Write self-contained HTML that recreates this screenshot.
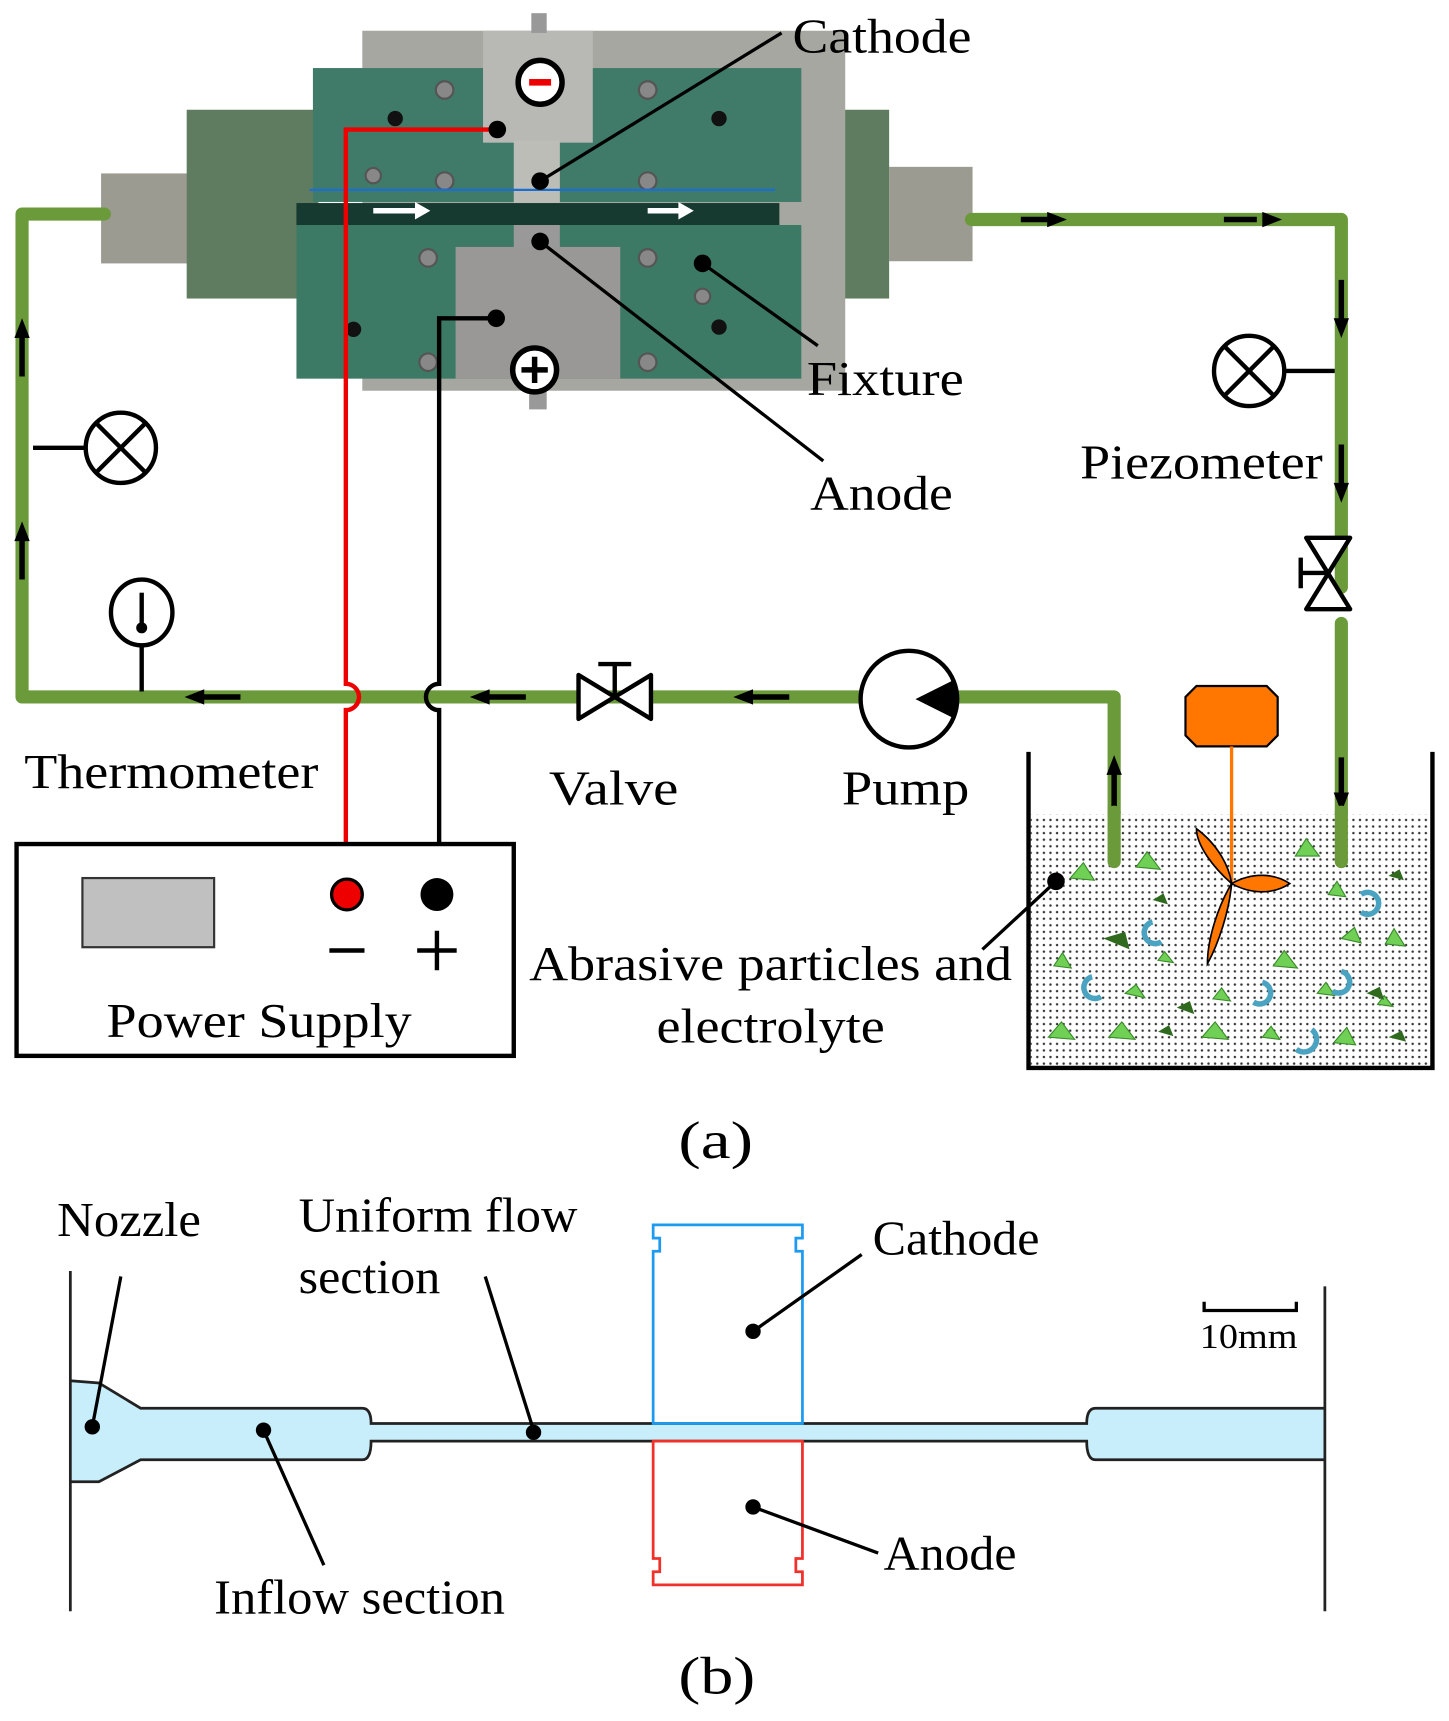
<!DOCTYPE html>
<html><head><meta charset="utf-8"><style>html,body{margin:0;padding:0;background:#fff}svg{display:block}text{font-family:"Liberation Serif",serif;fill:#000}</style></head>
<body>
<svg width="1449" height="1721" viewBox="0 0 1320 1568" xmlns="http://www.w3.org/2000/svg">
<defs>
<pattern id="dots" width="6" height="6" patternUnits="userSpaceOnUse"><rect width="6" height="6" fill="#fff"/><circle cx="3" cy="3" r="1.1" fill="#333"/></pattern>
</defs>
<rect x="92" y="158" width="85" height="82" fill="#9c9b92"/>
<rect x="810" y="152" width="76" height="86" fill="#9c9b92"/>
<rect x="170" y="100" width="120" height="172" fill="#5f7b60"/>
<rect x="698" y="100" width="112" height="172" fill="#5f7b60"/>
<rect x="330" y="28" width="440" height="328" fill="#a7a7a2"/>
<rect x="285" y="62" width="445" height="122" fill="#3f7b68"/>
<rect x="270" y="205" width="460" height="140" fill="#3d7a66"/>
<rect x="440" y="28" width="100" height="102" fill="#b8b8b4"/>
<rect x="468" y="128" width="42" height="60" fill="#bdbdb8"/>
<rect x="468" y="205" width="42" height="38" fill="#999"/>
<rect x="415" y="225" width="150" height="120" fill="#9a9896"/>
<rect x="270" y="185" width="440" height="20" fill="#163a30"/>
<g fill="#888" stroke="#555" stroke-width="2">
<circle cx="405" cy="82" r="8"/><circle cx="590" cy="82" r="8"/><circle cx="405" cy="165" r="8"/><circle cx="590" cy="165" r="8"/><circle cx="340" cy="160" r="7"/>
<circle cx="390" cy="235" r="8"/><circle cx="590" cy="235" r="8"/><circle cx="390" cy="330" r="8"/><circle cx="590" cy="330" r="8"/><circle cx="640" cy="270" r="7"/>
</g>
<g fill="#111"><circle cx="360" cy="108" r="7"/><circle cx="655" cy="108" r="7"/><circle cx="322" cy="300" r="7"/><circle cx="655" cy="298" r="7"/></g>
<rect x="484" y="12" width="14" height="18" fill="#999"/><rect x="482" y="355" width="16" height="18" fill="#999"/>
<path d="M340 192h40M590 192h30" stroke="#fff" stroke-width="5"/>
<path d="M378 184l14 8-14 8zM618 184l14 8-14 8z" fill="#fff"/>
<line x1="282" y1="173" x2="706" y2="173" stroke="#1c6fd0" stroke-width="2"/>
<circle cx="492" cy="75" r="20" fill="#fff" stroke="#000" stroke-width="5"/><rect x="482" y="72" width="20" height="6" fill="#e00"/>
<circle cx="487" cy="337" r="20" fill="#fff" stroke="#000" stroke-width="5"/><path d="M475 337h24M487 325v24" stroke="#000" stroke-width="5"/>
<g stroke="#6b9a3a" stroke-width="12" fill="none" stroke-linejoin="round" stroke-linecap="round">
<path d="M95 195H20V635H1015V785"/>
<path d="M885 200H1222V535"/>
<path d="M1222 568V785"/>
</g>
<g stroke="#000" stroke-width="5">
<path d="M20 305v38M20 490v38M185 635h34M445 635h34M685 635h34M930 200h28M1115 200h30M1222 255v38M1222 405v40M1222 690v38M1015 700v38"/>
</g>
<g fill="#000">
<path d="M20 290l-7 18h14z"/><path d="M20 475l-7 18h14z"/>
<path d="M168 635l18 -7v14z"/><path d="M428 635l18 -7v14z"/><path d="M668 635l18 -7v14z"/>
<path d="M972 200l-18 -7v14z"/><path d="M1168 200l-18 -7v14z"/>
<path d="M1222 308l-7 -18h14z"/><path d="M1222 458l-7 -18h14z"/><path d="M1222 740l-7 -18h14z"/><path d="M1015 688l-7 18h14z"/>
</g>
<g stroke="#000" stroke-width="4" fill="#fff">
<line x1="30" y1="408" x2="78" y2="408"/><circle cx="110" cy="408" r="32"/><path d="M88 386l44 44M132 386l-44 44"/>
<line x1="1170" y1="338" x2="1216" y2="338"/><circle cx="1138" cy="338" r="32"/><path d="M1116 316l44 44M1160 316l-44 44"/>
</g>
<g stroke="#000" stroke-width="4" fill="#fff"><ellipse cx="129" cy="558" rx="28" ry="30"/><line x1="129" y1="588" x2="129" y2="630"/><line x1="129" y1="540" x2="129" y2="570"/></g>
<circle cx="129" cy="572" r="5"/>
<g stroke="#000" stroke-width="4" fill="#fff" stroke-linejoin="round">
<path d="M527 615v40l66 -40v40z"/><path d="M560 635v-28M545 605h30"/>
<path d="M1190 490h40l-40 65h40z"/><path d="M1210 522h-25M1185 508v28"/>
</g>
<circle cx="828" cy="637" r="44" fill="#fff" stroke="#000" stroke-width="4"/>
<path d="M872 637l-38 0 36-18z M872 637l-38 0 36 18z" fill="#000"/>
<path d="M453 118H315V623a12 12 0 0 1 0 24V805" stroke="#e00" stroke-width="4" fill="none"/>
<path d="M452 290H400V623a12 12 0 0 0 0 24V805" stroke="#000" stroke-width="4" fill="none"/>
<circle cx="453" cy="118" r="8"/><circle cx="452" cy="290" r="8"/>
<rect x="15" y="769" width="453" height="193" fill="#fff" stroke="#000" stroke-width="4"/>
<rect x="75" y="800" width="120" height="63" fill="#c0c0c0" stroke="#333" stroke-width="2"/>
<circle cx="316" cy="815" r="14" fill="#e00" stroke="#000" stroke-width="3"/>
<circle cx="398" cy="815" r="15" fill="#000"/>
<path d="M300 866h32M380 866h36M398 848v36" stroke="#000" stroke-width="4"/>
<text x="97" y="945" font-size="44" textLength="278" lengthAdjust="spacingAndGlyphs">Power Supply</text>
<rect x="939" y="742" width="364" height="231" fill="url(#dots)"/>
<path d="M937 685V973H1305V685" stroke="#000" stroke-width="4" fill="none"/>
<path d="M1015 740V785M1222 740V785" stroke="#6b9a3a" stroke-width="12" stroke-linecap="round"/>
<path d="M1090 625h64l10 10v35l-10 10h-64l-10-10v-35z" fill="#ff7700" stroke="#000" stroke-width="2"/>
<line x1="1122" y1="680" x2="1122" y2="805" stroke="#ff7700" stroke-width="3"/>
<g fill="#ff7700" stroke="#000" stroke-width="1.5">
<path d="M1122 805C1105 790 1090 770 1090 755C1110 770 1120 790 1122 805z"/>
<path d="M1122 805C1140 795 1160 795 1175 805C1160 815 1140 815 1122 805z"/>
<path d="M1122 805C1120 830 1110 860 1100 878C1100 855 1110 825 1122 805z"/>
</g>
<g fill="#6fd055" stroke="#3a8a2a" stroke-width="1">
<path d="M975 800l12-14 10 16z"/><path d="M1035 790l10-14 12 16z"/><path d="M1180 780l10-16 12 16z"/><path d="M1210 815l8-12 8 14z"/><path d="M1262 860l8-14 10 16z"/><path d="M1222 855l12-10 6 14z"/><path d="M960 880l8-12 8 14z"/><path d="M1025 905l10-8 8 12z"/><path d="M1160 880l10-14 12 16z"/><path d="M1105 910l8-10 8 12z"/><path d="M1200 905l8-10 8 12z"/><path d="M1255 915l6-8 8 10z"/><path d="M955 945l12-14 12 16z"/><path d="M1010 945l12-14 12 16z"/><path d="M1095 945l12-14 12 16z"/><path d="M1150 945l8-10 8 12z"/><path d="M1215 950l12-14 8 16z"/><path d="M1055 875l6-8 8 10z"/>
</g>
<g fill="#2f6a1f"><path d="M1005 855l20-6 4 16z"/><path d="M1050 820l10-6 4 10z"/><path d="M1265 798l10-6 4 10z"/><path d="M1072 918l12-6 4 12z"/><path d="M1245 905l12-6 4 12z"/><path d="M1055 940l10-6 4 10z"/><path d="M1265 945l12-6 4 10z"/></g>
<g stroke="#4aa3c0" stroke-width="5" fill="none">
<path d="M1240 815a10 10 0 1 1 0 16"/><path d="M1050 840a10 10 0 1 0 8 18"/><path d="M995 890a10 10 0 1 0 8 18"/><path d="M1150 895a10 10 0 1 1 -8 18"/><path d="M1222 885a10 10 0 1 1 -8 18"/><path d="M1195 938a10 10 0 1 1 -14 18"/>
</g>
<g stroke="#000" stroke-width="3" fill="none">
<path d="M492 165L712 30"/><path d="M492 220L750 420"/><path d="M640 240L745 315"/><path d="M962 803L895 865"/>
</g>
<g fill="#000"><circle cx="492" cy="165" r="8"/><circle cx="492" cy="220" r="8"/><circle cx="640" cy="240" r="8"/><circle cx="962" cy="803" r="8"/></g>
<g font-size="44">
<text x="722" y="48" textLength="163" lengthAdjust="spacingAndGlyphs">Cathode</text>
<text x="735" y="360" textLength="143" lengthAdjust="spacingAndGlyphs">Fixture</text>
<text x="738" y="464" textLength="130" lengthAdjust="spacingAndGlyphs">Anode</text>
<text x="984" y="436" textLength="221" lengthAdjust="spacingAndGlyphs">Piezometer</text>
<text x="22" y="718" textLength="268" lengthAdjust="spacingAndGlyphs">Thermometer</text>
<text x="500" y="733" textLength="118" lengthAdjust="spacingAndGlyphs">Valve</text>
<text x="767" y="733" textLength="116" lengthAdjust="spacingAndGlyphs">Pump</text>
<text x="482" y="893" textLength="440" lengthAdjust="spacingAndGlyphs">Abrasive particles and</text>
<text x="598" y="950" textLength="208" lengthAdjust="spacingAndGlyphs">electrolyte</text>
<text x="618" y="1055" font-size="48" textLength="68" lengthAdjust="spacingAndGlyphs">(a)</text>
<text x="618" y="1543" font-size="48" textLength="70" lengthAdjust="spacingAndGlyphs">(b)</text>
</g>
<path d="M64 1258 L90 1260 L128 1283 L330 1283 Q338 1283 338 1297 L990 1297 Q990 1283 998 1283 L1207 1283 L1207 1330 L998 1330 Q990 1330 990 1313 L338 1313 Q338 1330 330 1330 L128 1330 L90 1350 L64 1350 Z" fill="#c9eefb"/>
<g stroke="#222" stroke-width="2.5" fill="none">
<path d="M64 1258 L90 1260 L128 1283 L330 1283 Q338 1283 338 1297 L990 1297 Q990 1283 998 1283 L1207 1283"/>
<path d="M64 1350 L90 1350 L128 1330 L330 1330 Q338 1330 338 1313 L990 1313 Q990 1330 998 1330 L1207 1330"/>
<path d="M64 1158V1468M1207 1172V1468"/>
</g>
<path d="M595 1297V1140h6v-12h-6v-12h136v12h-6v12h6v157z" fill="none" stroke="#1e9bf0" stroke-width="2.5"/>
<path d="M595 1313V1420h6v12h-6v12h136v-12h-6v-12h6V1313z" fill="none" stroke="#f0302a" stroke-width="2.5"/>
<path d="M1097 1186v8h84v-8" stroke="#000" stroke-width="3" fill="none"/>
<text x="1093" y="1228" font-size="32" textLength="89" lengthAdjust="spacingAndGlyphs">10mm</text>
<g stroke="#000" stroke-width="3">
<path d="M84 1300L110 1163"/><path d="M240 1303L295 1426"/><path d="M486 1303L442 1163"/><path d="M686 1213L785 1143"/><path d="M686 1373L800 1415"/>
</g>
<g fill="#000"><circle cx="84" cy="1300" r="7"/><circle cx="240" cy="1303" r="7"/><circle cx="486" cy="1305" r="7"/><circle cx="686" cy="1213" r="7"/><circle cx="686" cy="1373" r="7"/></g>
<g font-size="44">
<text x="52" y="1126" textLength="131" lengthAdjust="spacingAndGlyphs">Nozzle</text>
<text x="272" y="1122" textLength="254" lengthAdjust="spacingAndGlyphs">Uniform flow</text>
<text x="272" y="1178" textLength="129" lengthAdjust="spacingAndGlyphs">section</text>
<text x="795" y="1143" textLength="152" lengthAdjust="spacingAndGlyphs">Cathode</text>
<text x="805" y="1430" textLength="121" lengthAdjust="spacingAndGlyphs">Anode</text>
<text x="195" y="1470" textLength="265" lengthAdjust="spacingAndGlyphs">Inflow section</text>
</g>
</svg>
</body></html>
